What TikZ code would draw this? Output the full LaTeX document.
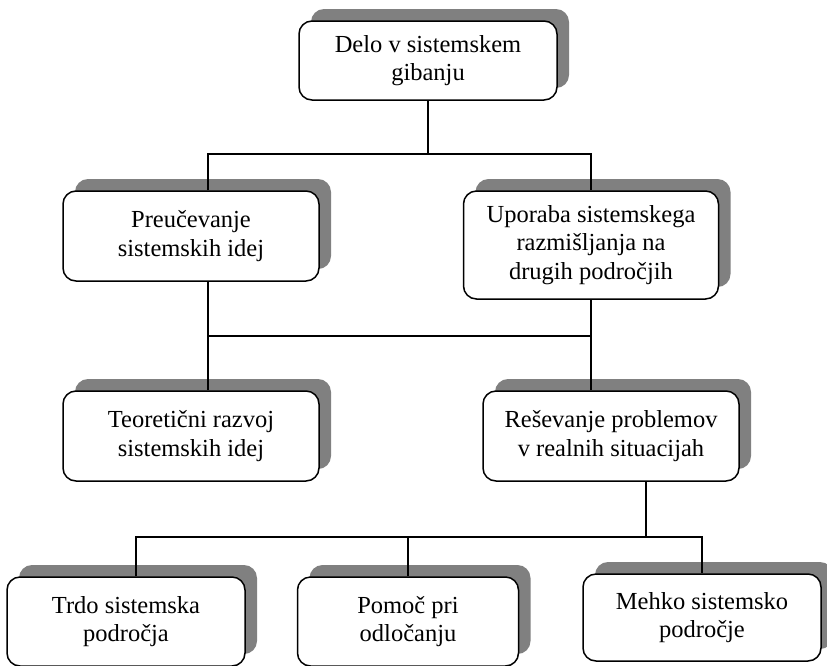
\documentclass[tikz,border=0pt]{standalone}
\usepackage{fontspec}
\setmainfont{Liberation Serif}
\usetikzlibrary{shadows}
\begin{document}
\begin{tikzpicture}[x=1pt,y=-1pt,
  box/.style={draw=black, line width=1.5pt, fill=white, rounded corners=13pt,
    inner sep=0pt, align=center,
    font=\fontsize{24.5}{28.5}\selectfont,
    general shadow={fill=black!50, draw=none, shadow xshift=12pt, shadow yshift=12pt}},
  link/.style={draw=black, line width=1.3pt}]
\useasboundingbox (0,0) rectangle (827,665);

% boxes
\node[box, minimum width=258pt, minimum height=79pt] (A) at (428,60.5) {Delo v sistemskem\\gibanju};
\node[box, minimum width=256pt, minimum height=90pt] (B) at (191,236) {Preučevanje\\sistemskih idej};
\node[box, minimum width=255pt, minimum height=108pt] (C) at (591,245) {Uporaba sistemskega\\razmišljanja na\\drugih področjih};
\node[box, minimum width=256pt, minimum height=90pt] (D) at (191,436) {Teoretični razvoj\\sistemskih idej};
\node[box, minimum width=256pt, minimum height=90pt] (E) at (611,436) {Reševanje problemov\\v realnih situacijah};
\node[box, minimum width=238pt, minimum height=89pt] (F) at (126,621.5) {Trdo sistemska\\področja};
\node[box, minimum width=221pt, minimum height=89pt] (G) at (408,621.5) {Pomoč pri\\odločanju};
\node[box, minimum width=238pt, minimum height=87pt] (H) at (702,617.5) {Mehko sistemsko\\področje};

% junction levels
\coordinate (jTop) at (428,154);
\coordinate (jMid) at (0,336);
\coordinate (jLow) at (0,537);

% top level
\draw[link] (A.south) -- (jTop);
\draw[link] ([xshift=17pt]B.north) |- (jTop) -| (C.north);

% middle level
\draw[link] ([xshift=17pt]B.south) -- ([xshift=17pt]D.north);
\draw[link] (C.south) -- (E.north -| C.south);
\draw[link] ([xshift=17pt]B.south |- jMid) -- (C.south |- jMid);

% lower level
\draw[link] ([xshift=35pt]E.south) -- ([xshift=35pt]E.south |- jLow);
\draw[link] ([xshift=10pt]F.north) |- (G.north |- jLow) -| (H.north);
\draw[link] (G.north) -- (G.north |- jLow);
\end{tikzpicture}
\end{document}
